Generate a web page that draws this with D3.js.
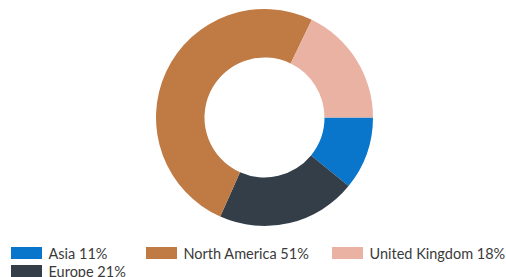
<!DOCTYPE html>
<html><head><meta charset="utf-8">
<script src="https://cdn.jsdelivr.net/npm/d3@7"></script>
<style>html,body{margin:0;padding:0;background:#fff;}svg{display:block;}</style>
</head><body>
<script>
const categories = ["Asia", "Europe", "North America", "United Kingdom"];
const values = [11, 21, 51, 18];
const colors = ["#0a76cb", "#333e48", "#c07b45", "#eab2a3"];
const legendOrder = ["Asia", "North America", "United Kingdom", "Europe"];
const legendX = [11, 146, 332, 11];
const legendY = [247, 247, 247, 265];

const W = 506, H = 277;
const svg = d3.select("body").append("svg").attr("width", W).attr("height", H);
const cx = 264.5, cy = 117.5, rOuter = 108.5, rInner = 60;
const color = d3.scaleOrdinal().domain(categories).range(colors);
const pie = d3.pie().sort(null).value(d => d.v).startAngle(Math.PI/2).endAngle(Math.PI/2 + 2*Math.PI);
const data = categories.map((c,i)=>({c, v: values[i]}));
const arc = d3.arc().innerRadius(rInner).outerRadius(rOuter);
svg.append("g").attr("transform", `translate(${cx},${cy})`)
  .selectAll("path").data(pie(data)).join("path")
  .attr("d", arc).attr("fill", d => color(d.data.c));

const lg = svg.append("g");
legendOrder.forEach((c, i) => {
  const v = values[categories.indexOf(c)];
  const g = lg.append("g").attr("transform", `translate(${legendX[i]},${legendY[i]})`);
  g.append("rect").attr("width", 31).attr("height", 12).attr("fill", color(c));
  g.append("text").attr("x", 37.5).attr("y", 11.5)
    .attr("font-family", "Lato, sans-serif").attr("font-size", 14.5)
    .attr("fill", "#3a3a3a").text(`${c} ${v}%`);
});
</script>
</body></html>
